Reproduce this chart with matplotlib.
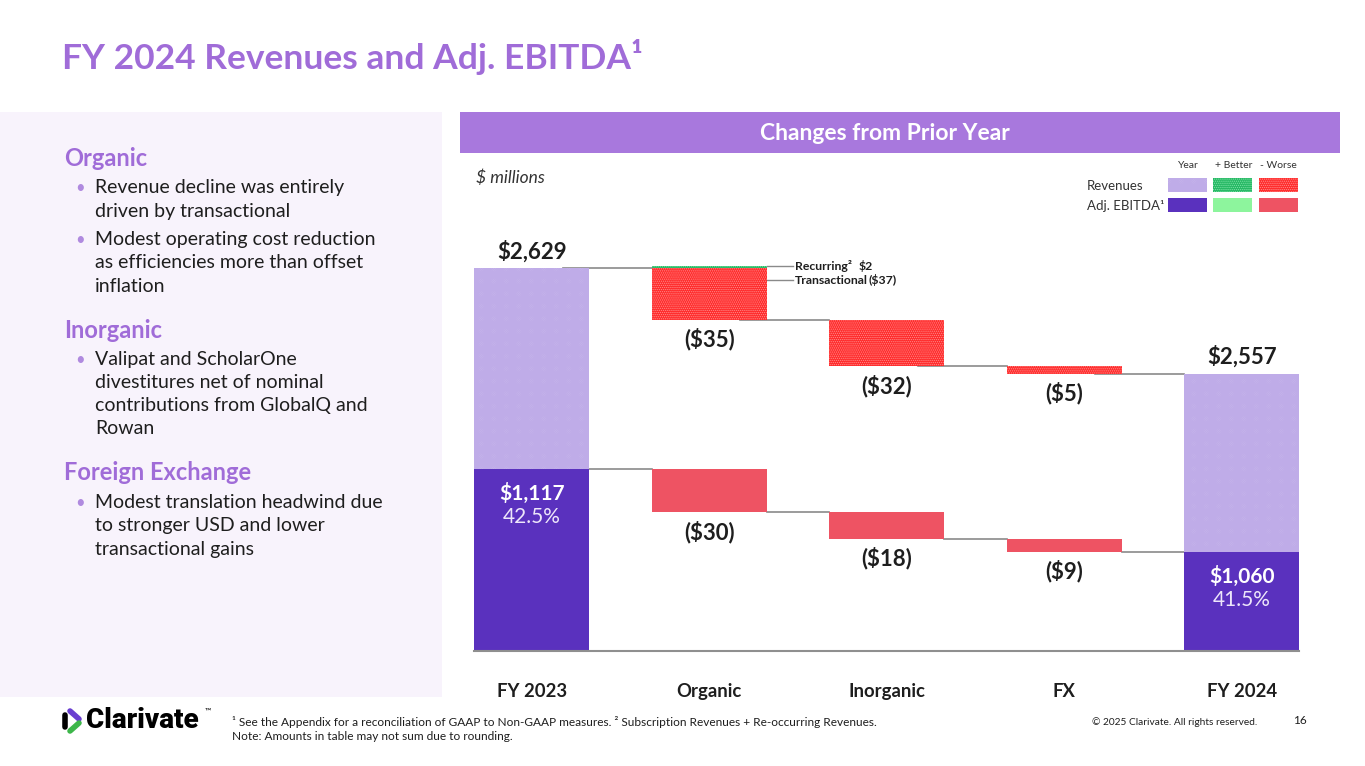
import matplotlib
matplotlib.use("Agg")
import matplotlib.pyplot as plt
from matplotlib.patches import Rectangle
from matplotlib.lines import Line2D

plt.rcParams['font.family'] = ['Lato', 'DejaVu Sans']
plt.rcParams['hatch.linewidth'] = 0.6

# Data ($ millions)
categories = ['FY 2023', 'Organic', 'Inorganic', 'FX', 'FY 2024']
rev_start = 2629
rev_changes = [-35, -32, -5]
rev_end = 2557
organic_recurring = 2
organic_transactional = -37
ebitda_start = 1117
ebitda_changes = [-30, -18, -9]
ebitda_end = 1060
margins = [42.5, 41.5]

# broken axis: each series is drawn above its own cut-off
REV_CUT = 2367
EBITDA_CUT = 992

W, H = 1365, 766
PURPLE = '#A06CD8'
DARK = '#1E1E1E'


def fx(x):
    return x / W


def fy(y):
    return 1 - y / H


fig = plt.figure(figsize=(W / 100, H / 100), dpi=100)
fig.patch.set_facecolor('white')

# styles
year_rev = dict(facecolor='#E6DEF7', edgecolor='#BFACE8', hatch='x' * 18, linewidth=0)
worse_rev = dict(facecolor='#FF2B2B', edgecolor='#FF8A8A', hatch='.' * 8, linewidth=0)
better_rev = dict(facecolor='#25B763', edgecolor='#7BE3A5', hatch='.' * 8, linewidth=0)
year_eb = dict(facecolor='#5A31BE', linewidth=0)
worse_eb = dict(facecolor='#EE5363', linewidth=0)
better_eb = dict(facecolor='#8DF59D', linewidth=0)

# title
fig.text(fx(62), fy(57), 'FY 2024 Revenues and Adj. EBITDA¹', fontsize=25.5, fontweight='bold',
         color=PURPLE, va='center', ha='left')

# left panel
fig.add_artist(Rectangle((0, fy(697)), fx(442), (697 - 112) / H, facecolor='#F8F3FC',
                         edgecolor='none', transform=fig.transFigure, zorder=0))
sections = [
    ('Organic', ['Revenue decline was entirely\ndriven by transactional',
                 'Modest operating cost reduction\nas efficiencies more than offset\ninflation']),
    ('Inorganic', ['Valipat and ScholarOne\ndivestitures net of nominal\ncontributions from GlobalQ and\nRowan']),
    ('Foreign Exchange', ['Modest translation headwind due\nto stronger USD and lower\ntransactional gains']),
]
y = 158
for head, bullets in sections:
    fig.text(fx(64), fy(y), head, fontsize=17, fontweight='bold', color=PURPLE, va='center')
    y += 30
    for b in bullets:
        lines = b.split('\n')
        fig.text(fx(75), fy(y), '•', fontsize=12, color='#B08ADF', va='center')
        for ln in lines:
            fig.text(fx(95), fy(y), ln, fontsize=14, color=DARK, va='center')
            y += 23
        y += 6
    y += 15

# header band
fig.add_artist(Rectangle((fx(460), fy(153)), fx(1340 - 460), (153 - 112) / H, facecolor='#A878DD',
                         edgecolor='none', transform=fig.transFigure))
fig.text(fx(885), fy(133), 'Changes from Prior Year', fontsize=16.5, fontweight='bold', color='white',
         ha='center', va='center')
fig.text(fx(476), fy(178), '$ millions', fontsize=12.5, style='italic', color='#333333', va='center')

# legend
for x, lbl in zip([1188, 1234, 1278], ['Year', '+ Better', '- Worse']):
    fig.text(fx(x), fy(165), lbl, fontsize=7.5, color='#333333', ha='center', va='center')
fig.text(fx(1087), fy(186), 'Revenues', fontsize=9.5, color='#333333', va='center')
fig.text(fx(1087), fy(206), 'Adj. EBITDA¹', fontsize=9.5, color='#333333', va='center')
for row, styles in [(178, [year_rev, better_rev, worse_rev]), (198, [year_eb, better_eb, worse_eb])]:
    for x, st in zip([1168, 1213, 1259], styles):
        fig.add_artist(Rectangle((fx(x), fy(row + 14)), fx(39), 14 / H, transform=fig.transFigure, **st))

# chart axes: 1 unit = 1.46 px, baseline at y=651
k = 1.46
ax = fig.add_axes([fx(443), fy(651), fx(887.5), (651 - 160) / H])
ax.set_xlim(-0.5, 4.5)
ax.set_ylim(0, (651 - 160) / k)
ax.axis('off')
bw = 0.65
conn = dict(color='#8A8A8A', lw=1.2, zorder=1)
lbl = dict(ha='center', va='center', fontsize=16, fontweight='bold', color=DARK)

# revenues
rev_levels = [rev_start]
for c in rev_changes:
    rev_levels.append(rev_levels[-1] + c)
ax.bar(0, rev_start - REV_CUT, width=bw, zorder=2, **year_rev)
ax.bar(4, rev_end - REV_CUT, width=bw, zorder=2, **year_rev)
ax.bar(1, organic_recurring, bottom=rev_start - REV_CUT, width=bw, zorder=2, **better_rev)
for i, c in enumerate(rev_changes):
    ax.bar(i + 1, c, bottom=rev_levels[i] - REV_CUT, width=bw, zorder=2, **worse_rev)
for i in range(4):
    ax.plot([i + bw / 2 - 0.15, i + 1 - bw / 2], [rev_levels[i] - REV_CUT] * 2, **conn)

ax.annotate(f'${rev_start:,}', (0, rev_start - REV_CUT), xytext=(0, 12), textcoords='offset points', **lbl)
ax.annotate(f'${rev_end:,}', (4, rev_end - REV_CUT), xytext=(0, 12), textcoords='offset points', **lbl)
for i, c in enumerate(rev_changes):
    ax.annotate(f'(${-c})', (i + 1, rev_levels[i + 1] - REV_CUT), xytext=(0, -14),
                textcoords='offset points', **lbl)

# organic split callouts
y_rec = rev_start - REV_CUT + organic_recurring
y_tr = rev_start - REV_CUT - 8
for yy in (y_rec, y_tr):
    ax.plot([1 + bw / 2, 1.47], [yy, yy], color='#8A8A8A', lw=1, zorder=1)
call = dict(fontsize=8.8, fontweight='bold', color=DARK, va='center')
ax.text(1.485, y_rec, 'Recurring²', **call)
ax.text(1.84, y_rec, f'${organic_recurring}', **call)
ax.text(1.485, y_tr, 'Transactional', **call)
ax.text(1.895, y_tr, f'(${-organic_transactional})', **call)

# adj. ebitda
eb_levels = [ebitda_start]
for c in ebitda_changes:
    eb_levels.append(eb_levels[-1] + c)
ax.bar(0, ebitda_start - EBITDA_CUT, width=bw, zorder=3, **year_eb)
ax.bar(4, ebitda_end - EBITDA_CUT, width=bw, zorder=3, **year_eb)
for i, c in enumerate(ebitda_changes):
    ax.bar(i + 1, c, bottom=eb_levels[i] - EBITDA_CUT, width=bw, zorder=3, **worse_eb)
for i in range(4):
    ax.plot([i + bw / 2, i + 1 - bw / 2], [eb_levels[i] - EBITDA_CUT] * 2, **conn)
for i, c in enumerate(ebitda_changes):
    ax.annotate(f'(${-c})', (i + 1, eb_levels[i + 1] - EBITDA_CUT), xytext=(0, -14),
                textcoords='offset points', **lbl)
for xi, val, m in [(0, ebitda_start, margins[0]), (4, ebitda_end, margins[1])]:
    ax.annotate(f'${val:,}', (xi, val - EBITDA_CUT), xytext=(0, -18), textcoords='offset points',
                ha='center', va='center', fontsize=15, fontweight='bold', color='white', zorder=5)
    ax.annotate(f'{m}%', (xi, val - EBITDA_CUT), xytext=(0, -35), textcoords='offset points',
                ha='center', va='center', fontsize=15, color='#EDE6FA', zorder=5)

# baseline and category labels
ax.plot([-bw / 2, 4 + bw / 2], [0, 0], color='#8F8F8F', lw=1.5, zorder=4, clip_on=False)
for i, cat in enumerate(categories):
    ax.annotate(cat, (i, 0), xytext=(0, -29), textcoords='offset points', ha='center', va='center',
                fontsize=13.3, fontweight='bold', color=DARK, annotation_clip=False)

# footer: logo
fig.add_artist(Line2D([fx(64.5), fx(64.5)], [fy(715), fy(727)], lw=4, color='black',
                      solid_capstyle='round', transform=fig.transFigure))
fig.add_artist(Line2D([fx(70), fx(79)], [fy(711), fy(719)], lw=4, color='#6A3FD0',
                      solid_capstyle='round', transform=fig.transFigure))
fig.add_artist(Line2D([fx(79), fx(70)], [fy(723), fy(731)], lw=4, color='#3DB64A',
                      solid_capstyle='round', transform=fig.transFigure))
fig.text(fx(86), fy(721), 'Clarivate', fontsize=20, fontweight='heavy', color='black', va='center',
         family=['Roboto', 'DejaVu Sans'])
fig.text(fx(205), fy(711), '™', fontsize=6, color='black', va='center')

fig.text(fx(232), fy(722), '¹ See the Appendix for a reconciliation of GAAP to Non-GAAP measures. '
         '² Subscription Revenues + Re-occurring Revenues.', fontsize=8.6, color=DARK, va='center')
fig.text(fx(232), fy(737), 'Note: Amounts in table may not sum due to rounding.', fontsize=8.6,
         color=DARK, va='center')
fig.text(fx(1257), fy(722), '© 2025 Clarivate. All rights reserved.', fontsize=7.3, color=DARK,
         ha='right', va='center')
fig.text(fx(1300), fy(721), '16', fontsize=8.5, color=DARK, ha='center', va='center')

fig.savefig('out.png', dpi=100)
